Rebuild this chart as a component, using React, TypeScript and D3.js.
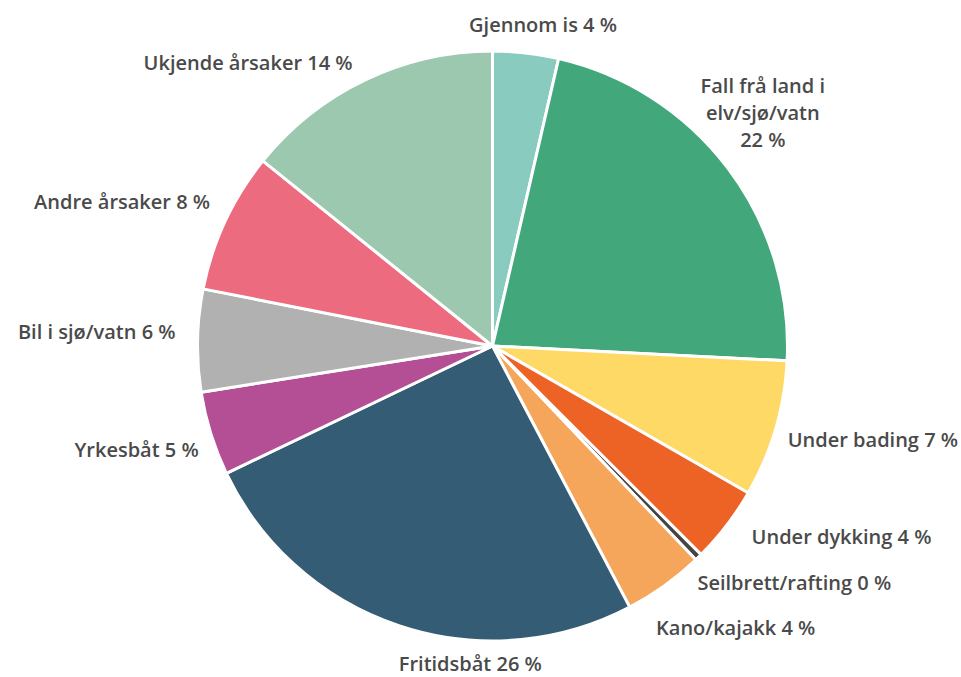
import React, { useEffect, useRef } from 'react';
import * as d3 from 'd3';

// slices clockwise from 12 o'clock
const causes = [
  'Gjennom is', 'Fall frå land i elv/sjø/vatn', 'Under bading', 'Under dykking',
  'Seilbrett/rafting', 'Kano/kajakk', 'Fritidsbåt', 'Yrkesbåt', 'Bil i sjø/vatn',
  'Andre årsaker', 'Ukjende årsaker',
];
const shares = [3.6, 22.2, 7.5, 4.2, 0.4, 4.4, 25.6, 4.6, 5.6, 7.7, 14.2];
const colors = [
  '#8acbbf', '#42a87c', '#ffd966', '#ec6325', '#444444', '#f6a65b',
  '#345c74', '#b44f96', '#b1b1b1', '#ec6b7e', '#9cc8b0',
];
// label line breaks
const labelLines = [
  ['Gjennom is 4 %'],
  ['Fall frå land i', 'elv/sjø/vatn', '22 %'],
  ['Under bading 7 %'],
  ['Under dykking 4 %'],
  ['Seilbrett/rafting 0 %'],
  ['Kano/kajakk 4 %'],
  ['Fritidsbåt 26 %'],
  ['Yrkesbåt 5 %'],
  ['Bil i sjø/vatn 6 %'],
  ['Andre årsaker 8 %'],
  ['Ukjende årsaker 14 %'],
];
// label nudges off the outer arc
const labelNudge = [
  [15, -8, 'middle'], [19, -43, 'middle'], [-7, 5, 'start'], [9, 0, 'start'],
  [-15, 11, 'start'], [-20, 26, 'start'], [77, 19, 'middle'], [7, 10, 'end'],
  [-2, -8, 'end'], [3, -11, 'end'], [-4, 1, 'end'],
];

const W = 961;
const H = 677;

const App = () => {
  const svgRef = useRef<SVGSVGElement>(null);

  useEffect(() => {
    document.body.style.margin = '0';
    const svg = d3.select(svgRef.current);
    svg.selectAll('*').remove();

    const cx = 492.5;
    const cy = 346;
    const radius = 295;

    const data = causes.map((c, i) => ({ cause: c, value: shares[i], i }));
    const pie = d3.pie<any>().sort(null).value(d => d.value);
    const arcs = pie(data);
    const arc = d3.arc<any>().innerRadius(0).outerRadius(radius);
    const labelArc = d3.arc<any>().innerRadius(315).outerRadius(315);

    const g = svg.append('g').attr('transform', `translate(${cx},${cy})`);

    g.selectAll('path')
      .data(arcs)
      .enter().append('path')
      .attr('d', arc)
      .attr('fill', d => colors[d.data.i])
      .attr('stroke', '#ffffff')
      .attr('stroke-width', 3)
      .attr('stroke-linejoin', 'round');

    const fontSize = 20;
    const labels = g.selectAll('text.lbl')
      .data(arcs)
      .enter().append('text')
      .attr('class', 'lbl')
      .attr('font-family', '"Open Sans", sans-serif')
      .attr('font-weight', 600)
      .attr('font-size', fontSize)
      .attr('fill', '#4a4a4a')
      .attr('text-anchor', d => labelNudge[d.data.i][2] as string)
      .attr('transform', d => {
        const [x, y] = labelArc.centroid(d);
        const n = labelNudge[d.data.i];
        return `translate(${x + (n[0] as number)},${y + (n[1] as number)})`;
      });

    labels.each(function (d) {
      const lines = labelLines[d.data.i];
      const t = d3.select(this);
      const lh = 27;
      lines.forEach((ln, k) => {
        t.append('tspan')
          .attr('x', 0)
          .attr('y', (k - (lines.length - 1) / 2) * lh)
          .attr('dy', '0.35em')
          .text(ln);
      });
    });
  }, []);

  return (
    <div style={{ width: W, height: H }}>
      <svg ref={svgRef} width={W} height={H} style={{ display: 'block' }} />
    </div>
  );
};

export default App;
